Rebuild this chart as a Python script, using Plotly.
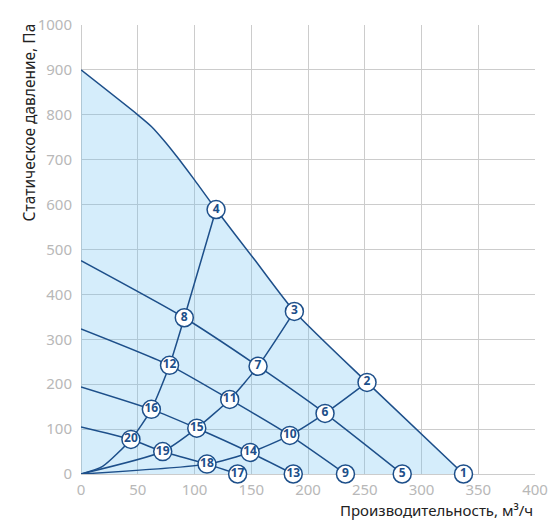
import plotly.graph_objects as go

# fan curves (speed settings), Q in m3/h, P in Pa
fan1_q = [0, 50, 62, 74, 86, 100, 119, 153, 188, 252, 337]
fan1_p = [900, 800, 774, 740, 702, 655, 589, 477, 362, 204, 0]
fan2_q = [0, 91, 156, 215, 283]
fan2_p = [475, 348, 240, 135, 0]
fan3_q = [0, 78, 131, 184, 233]
fan3_p = [323, 242, 166, 86, 0]
fan4_q = [0, 62, 102, 149, 187]
fan4_p = [194, 144, 102, 48, 0]
fan5_q = [0, 44, 72, 111, 138]
fan5_p = [105, 77, 50, 22, 0]

# system (network) curves from origin
sys1_q = [0, 19, 44, 62, 78, 91, 119]
sys1_p = [0, 17, 77, 144, 242, 348, 589]
sys2_q = [0, 72, 102, 131, 156, 188]
sys2_p = [0, 50, 102, 166, 240, 362]
sys3_q = [0, 111, 149, 184, 215, 252]
sys3_p = [0, 22, 48, 86, 135, 204]

# numbered operating points
pt_label = ['1', '2', '3', '4', '5', '6', '7', '8', '9', '10',
            '11', '12', '13', '14', '15', '16', '17', '18', '19', '20']
pt_q = [337, 252, 188, 119, 283, 215, 156, 91, 233, 184,
        131, 78, 187, 149, 102, 62, 138, 111, 72, 44]
pt_p = [0, 204, 362, 589, 0, 135, 240, 348, 0, 86,
        166, 242, 0, 48, 102, 144, 0, 22, 50, 77]

x_title = 'Производительность, м³/ч'
y_title = 'Статическое давление, Па'

blue = '#1d4f8a'
font = 'Noto Sans'

fig = go.Figure()

fig.add_trace(go.Scatter(x=fan1_q, y=fan1_p, mode='lines', fill='tozeroy',
                         fillcolor='rgba(100,190,240,0.27)',
                         line=dict(color=blue, width=1.5, shape='spline', smoothing=0.6),
                         hoverinfo='skip'))
for qs, ps in [(fan2_q, fan2_p), (fan3_q, fan3_p), (fan4_q, fan4_p), (fan5_q, fan5_p),
               (sys1_q, sys1_p), (sys2_q, sys2_p), (sys3_q, sys3_p)]:
    fig.add_trace(go.Scatter(x=qs, y=ps, mode='lines',
                             line=dict(color=blue, width=1.5, shape='spline', smoothing=0.6),
                             hoverinfo='skip'))

fig.add_trace(go.Scatter(x=pt_q, y=pt_p, mode='markers+text', text=pt_label,
                         textposition='middle center', cliponaxis=False,
                         marker=dict(size=18, color='white', line=dict(color=blue, width=1.5)),
                         textfont=dict(family=font, size=12, color=blue, weight='bold')))

axis_common = dict(showgrid=True, gridcolor='#cccccc', gridwidth=1,
                   zeroline=True, zerolinecolor='#cccccc', zerolinewidth=1,
                   showline=False, ticks='',
                   tickfont=dict(family=font, size=15, color='#b8b8b8'))

fig.update_xaxes(range=[0, 400], dtick=50, ticklabelstandoff=5, **axis_common)
fig.update_yaxes(range=[0, 1000], dtick=100, ticklabelstandoff=8, **axis_common)

fig.add_annotation(text=x_title, xref='paper', yref='paper', x=1.0, y=-0.08,
                   xanchor='right', yanchor='middle', showarrow=False,
                   font=dict(family=font, size=15, color='#222222'))
fig.add_annotation(text=y_title, xref='paper', yref='paper', x=-0.1155, y=1.007,
                   xanchor='center', yanchor='top', textangle=-90, showarrow=False,
                   font=dict(family=font, size=15.5, color='#222222'))

fig.update_layout(width=560, height=527, showlegend=False,
                  plot_bgcolor='white', paper_bgcolor='white',
                  margin=dict(l=81, r=20, t=25, b=53))

# drop the default 8px body margin so the figure sits at the window corner
fig.write_html("out.html", config={'displayModeBar': False},
               post_script="document.body.style.margin = '0';")
